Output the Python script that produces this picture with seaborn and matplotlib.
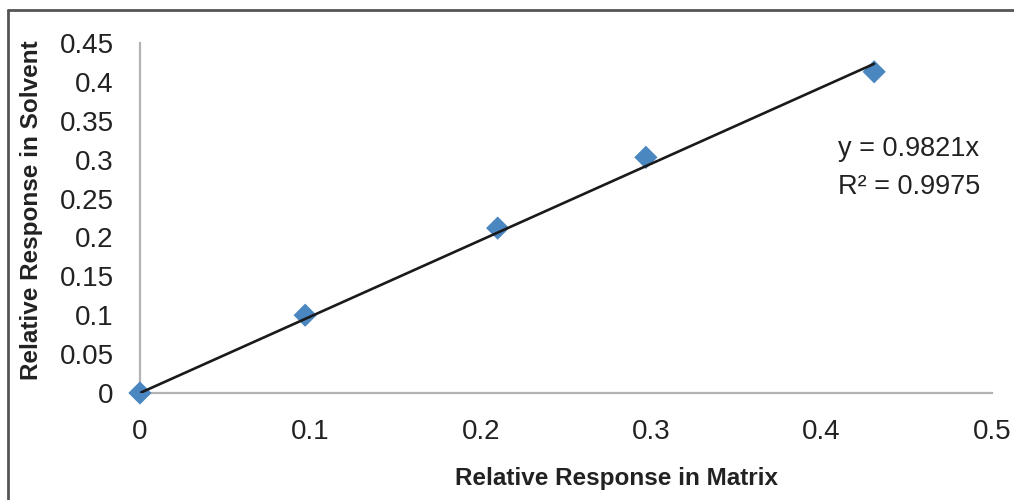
import numpy as np
import pandas as pd
import matplotlib
matplotlib.use("Agg")
import matplotlib.pyplot as plt
import seaborn as sns
from matplotlib.lines import Line2D

# data
matrix_resp = [0.0, 0.097, 0.210, 0.297, 0.431]
solvent_resp = [0.0, 0.100, 0.212, 0.303, 0.413]
slope = 0.9821
r_squared = 0.9975

x_ticks = [0, 0.1, 0.2, 0.3, 0.4, 0.5]
x_tick_labels = ["0", "0.1", "0.2", "0.3", "0.4", "0.5"]
y_ticks = [0, 0.05, 0.1, 0.15, 0.2, 0.25, 0.3, 0.35, 0.4, 0.45]
y_tick_labels = ["0", "0.05", "0.1", "0.15", "0.2", "0.25", "0.3", "0.35", "0.4", "0.45"]

sns.set_theme(style="white")
plt.rcParams["font.family"] = ["Liberation Sans", "DejaVu Sans"]

df = pd.DataFrame({"matrix": matrix_resp, "solvent": solvent_resp})
fit_x = np.array([min(matrix_resp), max(matrix_resp)])
fit_df = pd.DataFrame({"matrix": fit_x, "solvent": slope * fit_x})

fig = plt.figure(figsize=(10.14, 5.0), dpi=100)
ax = fig.add_axes([0.138, 0.214, 0.840, 0.700])

sns.scatterplot(data=df, x="matrix", y="solvent", marker="D", s=140,
                color="#4a86c0", edgecolor="none", ax=ax, clip_on=False, zorder=3)
sns.lineplot(data=fit_df, x="matrix", y="solvent", color="#1a1a1a",
             linewidth=1.9, ax=ax, zorder=4)

ax.set_xlim(0, 0.5)
ax.set_ylim(0, 0.45)
ax.set_xticks(x_ticks)
ax.set_xticklabels(x_tick_labels)
ax.set_yticks(y_ticks)
ax.set_yticklabels(y_tick_labels)

for side in ["top", "right"]:
    ax.spines[side].set_visible(False)
for side in ["left", "bottom"]:
    ax.spines[side].set_color("#b3b3b3")
    ax.spines[side].set_linewidth(1.6)

ax.tick_params(axis="both", which="major", direction="out", length=7,
               width=1.6, color="#b3b3b3", labelsize=20, labelcolor="#222222")
ax.tick_params(axis="x", pad=12)
ax.tick_params(axis="y", pad=12)

ax.set_xlabel("Relative Response in Matrix", fontsize=17.5, fontweight="bold",
              color="#222222")
ax.set_ylabel("Relative Response in Solvent", fontsize=17.5, fontweight="bold",
              color="#222222")
# labels sit a bit off-centre in the reference
ax.xaxis.set_label_coords(0.559, -0.21)
ax.yaxis.set_label_coords(-0.114, 0.523)

ax.text(0.819, 0.698, f"y = {slope}x", transform=ax.transAxes, fontsize=19.5,
        color="#222222", va="center", ha="left")
ax.text(0.819, 0.589, f"R\u00b2 = {r_squared}", transform=ax.transAxes, fontsize=19.5,
        color="#222222", va="center", ha="left")

# outer frame (only top and left edges show in the crop)
fig.add_artist(Line2D([0.0075, 0.0075], [0, 0.98], transform=fig.transFigure,
                      color="#555555", linewidth=2.0))
fig.add_artist(Line2D([0.0075, 1.0], [0.98, 0.98], transform=fig.transFigure,
                      color="#555555", linewidth=2.0))

fig.savefig("out.png", dpi=100)
